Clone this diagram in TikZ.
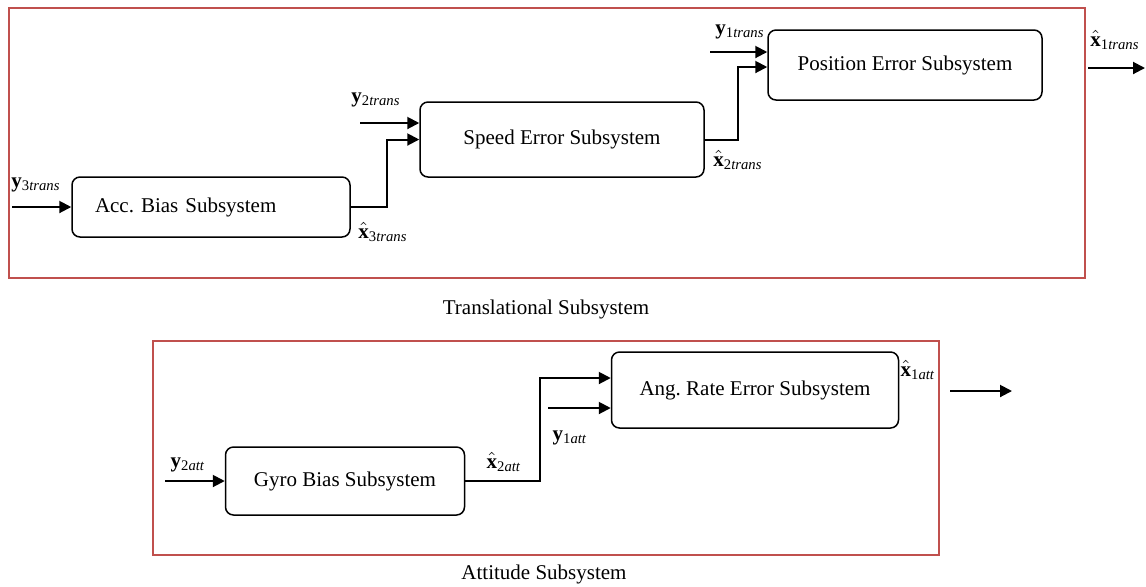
\documentclass[tikz,border=0pt]{standalone}
\usepackage{fontspec}
\setmainfont{Liberation Serif}
\usepackage{tikz}
\usetikzlibrary{calc,arrows.meta,positioning}
\definecolor{ss-frame}{HTML}{C0504D}
\frenchspacing
\newcommand{\ysig}[2]{\textbf{y}\textsubscript{#1\textit{#2}}}
\newcommand{\xest}[2]{$\hat{\textbf{x}}$\textsubscript{#1\textit{#2}}}

\begin{document}
\begin{tikzpicture}[x=0.5pt,y=-0.5pt,
    every node/.style={font=\fontsize{10.5}{13}\selectfont},
    block/.style={draw, rectangle, rounded corners=4pt, line width=0.75pt},
    frame/.style={draw=ss-frame, rectangle, line width=0.6pt},
    sig/.style={-{Triangle[length=6pt,width=6pt]}, line width=1pt},
    lbl/.style={inner sep=0pt}]
    \useasboundingbox (0,0) rectangle (1146,586);

    \node[frame, minimum width=538pt, minimum height=135pt] (trans) at (547,143) {};
    \node[frame, minimum width=393pt, minimum height=107pt] (att) at (546,448) {};
    \node (transname) at (546,309) {Translational Subsystem};
    \node (attname) at (544,574) {Attitude Subsystem};

    \node[block, minimum height=30pt, text width=116pt, inner xsep=11.5pt, align=left] (acc) at (211,207) {Acc. Bias Subsystem};
    \node[block, minimum width=142pt, minimum height=37.5pt] (speed) at (562,139.5) {Speed Error Subsystem};
    \node[block, minimum width=137pt, minimum height=35pt] (pos) at (905,65) {Position Error Subsystem};
    \node[block, minimum width=119.5pt, minimum height=34pt] (gyro) at (345,481) {Gyro Bias Subsystem};
    \node[block, minimum width=143.5pt, minimum height=38pt] (ang) at (755,390) {Ang. Rate Error Subsystem};

    \coordinate (in3) at (12,207);
    \coordinate (in2) at (360,123);
    \coordinate (in1) at (710,52);
    \coordinate (outa) at (1088,68);
    \coordinate (outb) at (1145,68);
    \coordinate (in2att) at (165,481);
    \coordinate (in1att) at (548,408);
    \coordinate (outatta) at (950,391);
    \coordinate (outattb) at (1012,391);

    \draw[sig] (in3) -- (in3 -| acc.west);
    \draw[sig] (acc.east) -- ++(36,0) |- (speed.west);
    \draw[sig] (in2) -- (in2 -| speed.west);
    \draw[sig] (speed.east) -- ++(33,0) |- ([yshift=-1pt]pos.west);
    \draw[sig] (in1) -- (in1 -| pos.west);
    \draw[sig] (outa) -- (outb);

    \draw[sig] (in2att) -- (gyro.west);
    \draw[sig] (gyro.east) -- ++(75,0) |- ([yshift=6pt]ang.west);
    \draw[sig] (in1att) -- (in1att -| ang.west);
    \draw[sig] (outatta) -- (outattb);

    \node[lbl] (y3t) at (36,185) {\ysig{3}{trans}};
    \node[lbl] (x3t) at (383,232) {\xest{3}{trans}};
    \node[lbl] (y2t) at (376,100) {\ysig{2}{trans}};
    \node[lbl] (x2t) at (738,160) {\xest{2}{trans}};
    \node[lbl] (y1t) at (740,32) {\ysig{1}{trans}};
    \node[lbl] (x1t) at (1115,40) {\xest{1}{trans}};
    \node[lbl] (y2a) at (188,465) {\ysig{2}{att}};
    \node[lbl] (x2a) at (504,462) {\xest{2}{att}};
    \node[lbl] (y1a) at (570,438) {\ysig{1}{att}};
    \node[lbl] (x1a) at (918,370) {\xest{1}{att}};
\end{tikzpicture}
\end{document}
